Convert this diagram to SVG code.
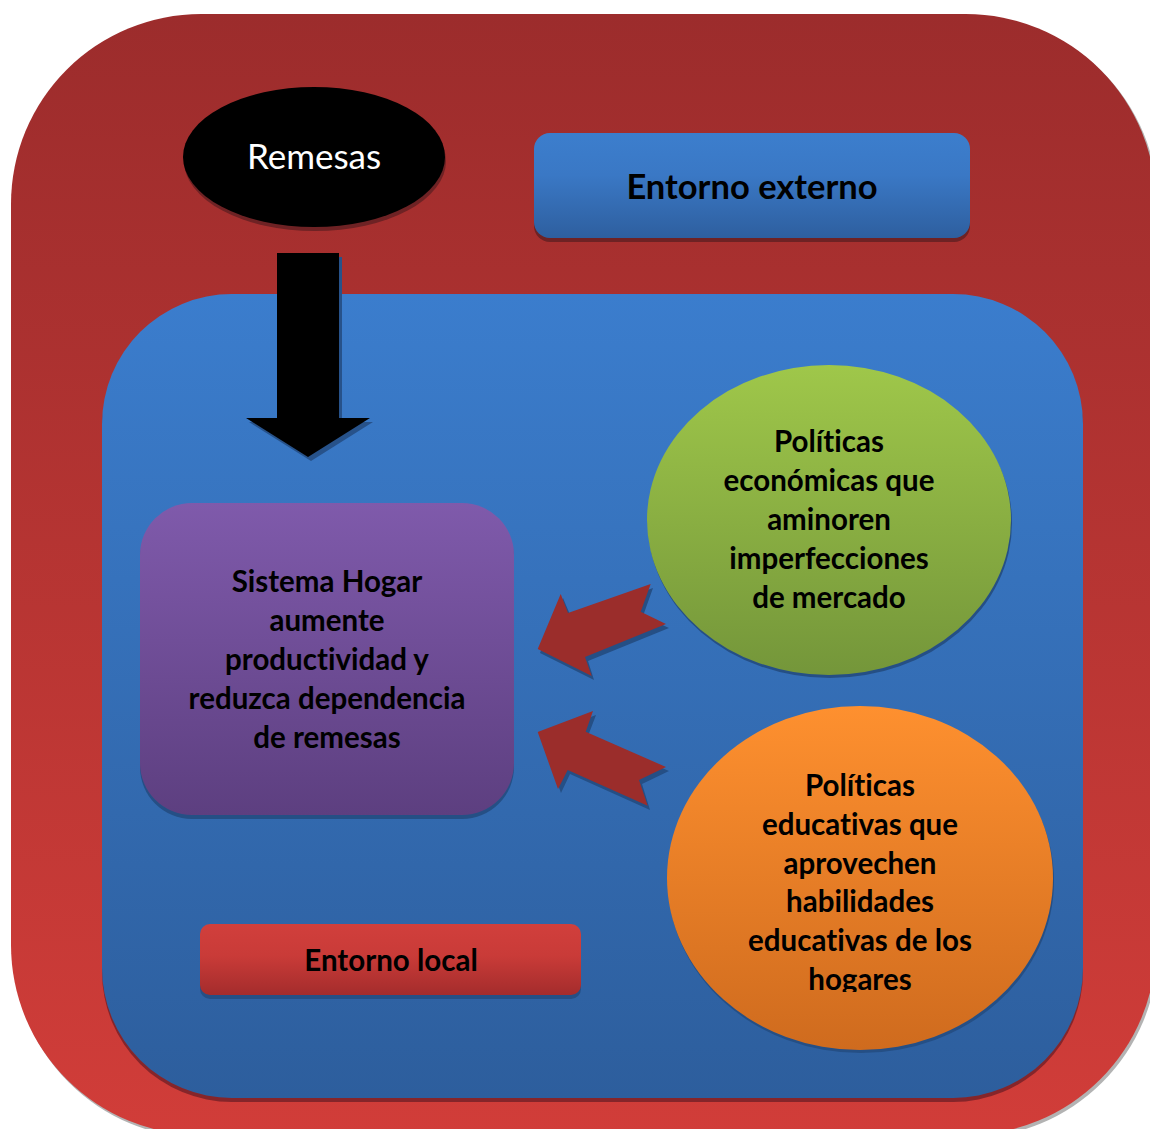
<svg xmlns="http://www.w3.org/2000/svg" width="1150" height="1129" viewBox="0 0 1150 1129">
<defs>
<linearGradient id="gOuter" x1="0" y1="0" x2="0" y2="1"><stop offset="0" stop-color="#9c2c2c"/><stop offset="1" stop-color="#d13d39"/></linearGradient>
<linearGradient id="gBlue" x1="0" y1="0" x2="0" y2="1"><stop offset="0" stop-color="#3b7dcd"/><stop offset="1" stop-color="#2d5e9d"/></linearGradient>
<linearGradient id="gBtn" x1="0" y1="0" x2="0" y2="1"><stop offset="0" stop-color="#3c7ecd"/><stop offset="0.4" stop-color="#3a78c5"/><stop offset="1" stop-color="#2e5f9f"/></linearGradient>
<linearGradient id="gRed" x1="0" y1="0" x2="0" y2="1"><stop offset="0" stop-color="#d13f3c"/><stop offset="0.45" stop-color="#c93b38"/><stop offset="1" stop-color="#a42c2c"/></linearGradient>
<linearGradient id="gPurple" x1="0" y1="0" x2="0" y2="1"><stop offset="0" stop-color="#7f5aab"/><stop offset="1" stop-color="#5d3f80"/></linearGradient>
<linearGradient id="gGreen" x1="0" y1="0" x2="0" y2="1"><stop offset="0" stop-color="#9fc74a"/><stop offset="1" stop-color="#74963a"/></linearGradient>
<linearGradient id="gOrange" x1="0" y1="0" x2="0" y2="1"><stop offset="0" stop-color="#fe902f"/><stop offset="1" stop-color="#cf6b1e"/></linearGradient>
<clipPath id="clipOrange"><rect x="600" y="700" width="500" height="292"/></clipPath>
<style>
.t{font-family:Lato,"Open Sans","Liberation Sans",sans-serif;font-weight:bold;font-size:29.5px;fill:#000;text-anchor:middle;font-variant-ligatures:none;font-feature-settings:"liga" 0,"clig" 0,"dlig" 0}
.w{font-family:Lato,"Open Sans","Liberation Sans",sans-serif;font-size:35px;fill:#fff;text-anchor:middle}
</style>
</defs>
<g id="outer">
<rect x="13" y="16" width="1145" height="1122" rx="190" ry="190" fill="#b3b3b3"/>
<rect x="11" y="14" width="1145" height="1121" rx="190" ry="190" fill="url(#gOuter)"/>
</g>
<g id="inner">
<rect x="102" y="298" width="981" height="804" rx="130" ry="130" fill="#85252a"/>
<rect x="102" y="294" width="981" height="804" rx="130" ry="130" fill="url(#gBlue)"/>
</g>
<g id="remesas">
<ellipse cx="315" cy="161" rx="131" ry="70" fill="#6e2224"/>
<ellipse cx="314" cy="157" rx="131" ry="70" fill="#000"/>
<text class="w" x="314" y="169">Remesas</text>
</g>
<g id="entorno-externo">
<rect x="534" y="137" width="436" height="105" rx="16" fill="#6e2224"/>
<rect x="534" y="133" width="436" height="105" rx="16" fill="url(#gBtn)"/>
<text class="t" x="752" y="199" style="font-size:34.5px">Entorno externo</text>
</g>
<g id="connectors">
<polygon points="280,257 342,257 342,422 373,422 311,461 249,422 280,422" fill="#27528a"/>
<polygon points="277,253 339,253 339,418 370,418 308,457 246,418 277,418" fill="#000"/>
<polygon points="540,653 563,598 571,617 653,588 643,616 669,628 588,661 594,680" fill="#254f85"/>
<polygon points="537.7,649 560.7,594 568,613 650.7,584 640.7,611.7 666,624 585,657 591.7,676" fill="#9b2d2b"/>
<polygon points="540,736 596,715 588,736 669,771 642,784 650,810 570,774 561,793" fill="#254f85"/>
<polygon points="537.7,732 593,711 585.7,731.7 666,767 639,780 647.7,805.7 567.7,770 558,789" fill="#9b2d2b"/>
</g>
<g id="sistema-hogar">
<rect x="140" y="507" width="374" height="312" rx="52" fill="#254f85"/>
<rect x="140" y="503" width="374" height="312" rx="52" fill="url(#gPurple)"/>
<text class="t" x="327" y="592">Sistema Hogar</text>
<text class="t" x="327" y="631">aumente</text>
<text class="t" x="327" y="670">productividad y</text>
<text class="t" x="327" y="709">reduzca dependencia</text>
<text class="t" x="327" y="748">de remesas</text>
</g>
<g id="politicas-economicas">
<ellipse cx="830" cy="523" rx="182" ry="155" fill="#254f85"/>
<ellipse cx="829" cy="520" rx="182" ry="155" fill="url(#gGreen)"/>
<text class="t" x="829" y="452">Políticas</text>
<text class="t" x="829" y="491">económicas que</text>
<text class="t" x="829" y="530">aminoren</text>
<text class="t" x="829" y="569">imperfecciones</text>
<text class="t" x="829" y="608">de mercado</text>
</g>
<g id="politicas-educativas">
<ellipse cx="861" cy="881" rx="193" ry="172" fill="#254f85"/>
<ellipse cx="860" cy="878" rx="193" ry="172" fill="url(#gOrange)"/>
<g clip-path="url(#clipOrange)">
<text class="t" x="860" y="796">Políticas</text>
<text class="t" x="860" y="835">educativas que</text>
<text class="t" x="860" y="874">aprovechen</text>
<text class="t" x="860" y="912">habilidades</text>
<text class="t" x="860" y="951">educativas de los</text>
<text class="t" x="860" y="990">hogares</text>
</g>
</g>
<g id="entorno-local">
<rect x="200" y="928" width="381" height="71" rx="10" fill="#254f85"/>
<rect x="200" y="924" width="381" height="71" rx="10" fill="url(#gRed)"/>
<text class="t" x="391" y="971">Entorno local</text>
</g>
</svg>
